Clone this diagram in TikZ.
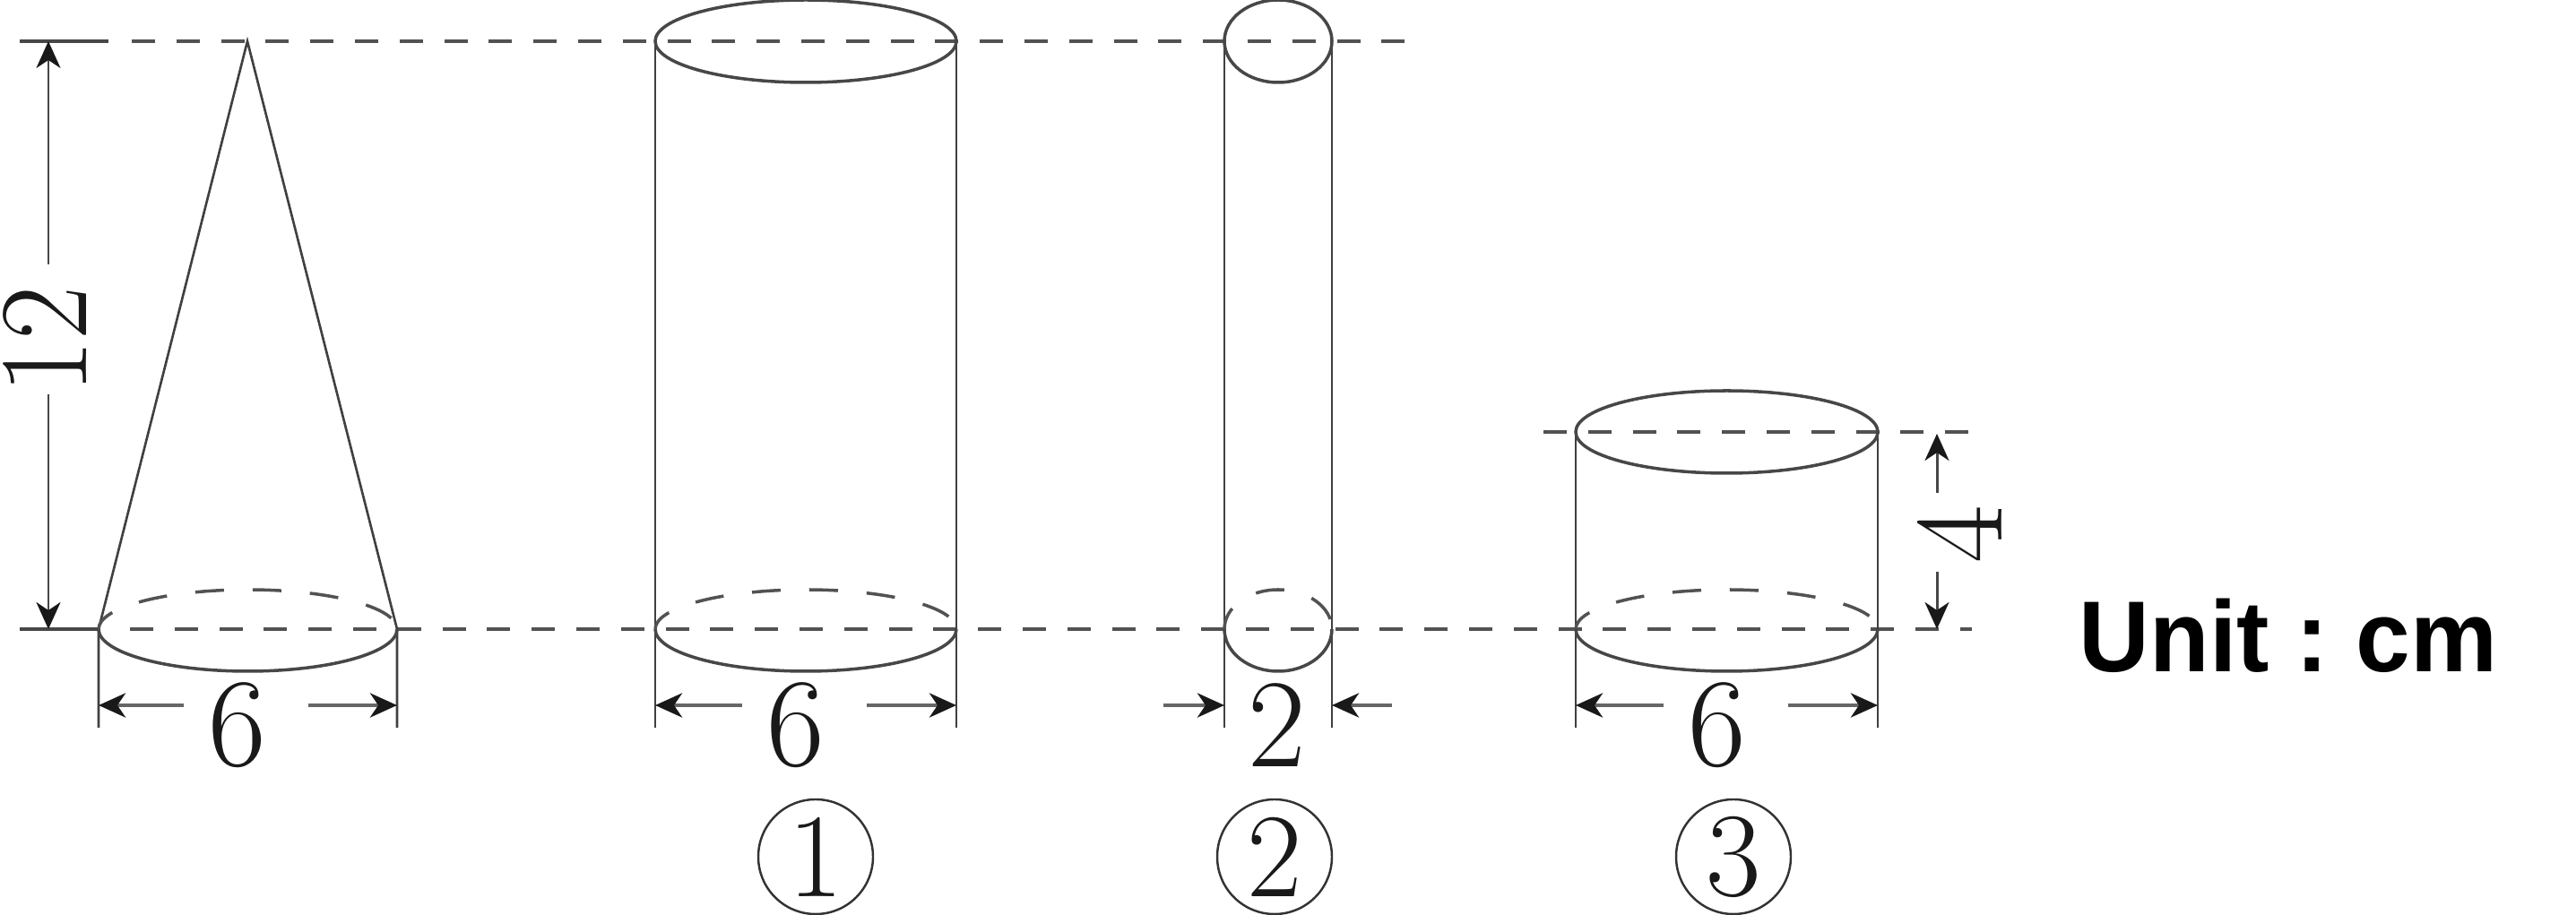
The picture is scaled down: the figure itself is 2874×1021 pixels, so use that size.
\documentclass[tikz,border=0pt]{standalone}
\usepackage{fontspec}
\newfontfamily\unitfont{Liberation Sans}
\usetikzlibrary{arrows.meta, positioning}

\begin{document}
\begin{tikzpicture}[x=.1mm,y=.1mm,>={Stealth[length=3mm,width=2.7mm,inset=.9mm,color=black!90]},
  every node/.style={inner sep=0pt},
  edge/.style={draw=black!75,line width=.75pt},
  curve/.style={draw=black!72,line width=1pt},
  guide/.style={draw=black!68,line width=1.05pt,dash pattern=on 2.6mm off 2.38mm},
  hidden/.style={draw=black!68,line width=1pt,dash pattern=on 3.2mm off 3.2mm,dash phase=.7mm},
  dim/.style={draw=black!72,line width=.85pt,->},
  wdim/.style={draw=black!60,line width=1.25pt,->},
  num/.style={font=\fontsize{40}{40}\selectfont,text=black!90},
  tag/.style={draw=black!80,line width=.7pt,circle,minimum size=12.8mm,
    font=\fontsize{38}{38}\selectfont,text=black!90}]
 \useasboundingbox (0,0) rectangle (2874,1021);
 \coordinate (topa) at (22,975);
 \coordinate (topb) at (121,975);
 \coordinate (topd) at (147,975);
 \coordinate (topc) at (1569,975);
 \coordinate (basea) at (22,319);
 \coordinate (baseb) at (110,319);
 \coordinate (based) at (145,319);
 \coordinate (basec) at (2200,319);
 \coordinate (lowa) at (1722,539);
 \coordinate (lowb) at (2200,539);
 \draw[curve] (topa)--(topb);
 \draw[curve] (basea)--(baseb);
 \path[guide] (topd)--(topc);
 \path[guide] (based)--(basec);
 \path[guide] (lowa)--(lowb);

 \coordinate (apex) at (276,975);
 \coordinate (conel) at (110,319);
 \coordinate (coner) at (443,319);
 \coordinate (conelt) at (110,209);
 \coordinate (conert) at (443,209);
 \draw[edge] (conelt)--(conel)--(apex)--(coner)--(conert);
 \draw[curve] (conel) arc[start angle=180,end angle=360,x radius=166.5,y radius=47];
 \path[hidden] (conel) arc[start angle=180,end angle=0,x radius=166.5,y radius=44];

 \coordinate (onelt) at (731,975);
 \coordinate (onert) at (1067,975);
 \coordinate (onel) at (731,319);
 \coordinate (onelb) at (731,209);
 \coordinate (onerb) at (1067,209);
 \draw[edge] (onelt)--(onelb);
 \draw[edge] (onert)--(onerb);
 \draw[curve] (899,975) ellipse[x radius=168,y radius=46];
 \draw[curve] (onel) arc[start angle=180,end angle=360,x radius=168,y radius=47];
 \path[hidden] (onel) arc[start angle=180,end angle=0,x radius=168,y radius=44];

 \coordinate (twolt) at (1366,975);
 \coordinate (twort) at (1486,975);
 \coordinate (twol) at (1366,319);
 \coordinate (twolb) at (1366,209);
 \coordinate (tworb) at (1486,209);
 \draw[edge] (twolt)--(twolb);
 \draw[edge] (twort)--(tworb);
 \draw[curve] (1426,975) ellipse[x radius=60,y radius=46];
 \draw[curve] (twol) arc[start angle=180,end angle=360,x radius=60,y radius=47];
 \path[hidden] (twol) arc[start angle=180,end angle=0,x radius=60,y radius=44];

 \coordinate (threelt) at (1758,539);
 \coordinate (threert) at (2095,539);
 \coordinate (threel) at (1758,319);
 \coordinate (threelb) at (1758,209);
 \coordinate (threerb) at (2095,209);
 \draw[edge] (threelt)--(threelb);
 \draw[edge] (threert)--(threerb);
 \draw[curve] (1926.5,539) ellipse[x radius=168.5,y radius=46];
 \draw[curve] (threel) arc[start angle=180,end angle=360,x radius=168.5,y radius=47];
 \path[hidden] (threel) arc[start angle=180,end angle=0,x radius=168.5,y radius=44];

 \node[num,rotate=90,xscale=.93] (twelve) at (50,641) {12};
 \coordinate (htop) at (54,975);
 \coordinate (hbot) at (54,319);
 \draw[dim] (54,726)--(htop);
 \draw[dim] (54,581)--(hbot);

 \node[num,rotate=90] (four) at (2186,425) {4};
 \coordinate (ftop) at (2161,537);
 \coordinate (fbot) at (2161,319);
 \draw[dim] (2161,471)--(ftop);
 \draw[dim] (2161,383)--(fbot);

 \node[num] (sixa) at (265,212) {6};
 \draw[wdim] (205,234)--(110,234);
 \draw[wdim] (344,234)--(443,234);

 \node[num] (sixb) at (888,212) {6};
 \draw[wdim] (828,234)--(731,234);
 \draw[wdim] (967,234)--(1067,234);

 \node[num] (twodim) at (1425,212) {2};
 \draw[wdim] (1298,234)--(1366,234);
 \draw[wdim] (1553,234)--(1486,234);

 \node[num] (sixc) at (1916,212) {6};
 \draw[wdim] (1856,234)--(1758,234);
 \draw[wdim] (1995,234)--(2095,234);

 \node[tag] (tagone) at (910,65) {1};
 \node[tag] (tagtwo) at (1422,65) {2};
 \node[tag] (tagthree) at (1934,65) {3};

 \node[font=\unitfont\bfseries\fontsize{32}{32}\selectfont\frenchspacing,anchor=base,xscale=.97] (unit) at (2553,271) {Unit : cm};
\end{tikzpicture}
\end{document}
